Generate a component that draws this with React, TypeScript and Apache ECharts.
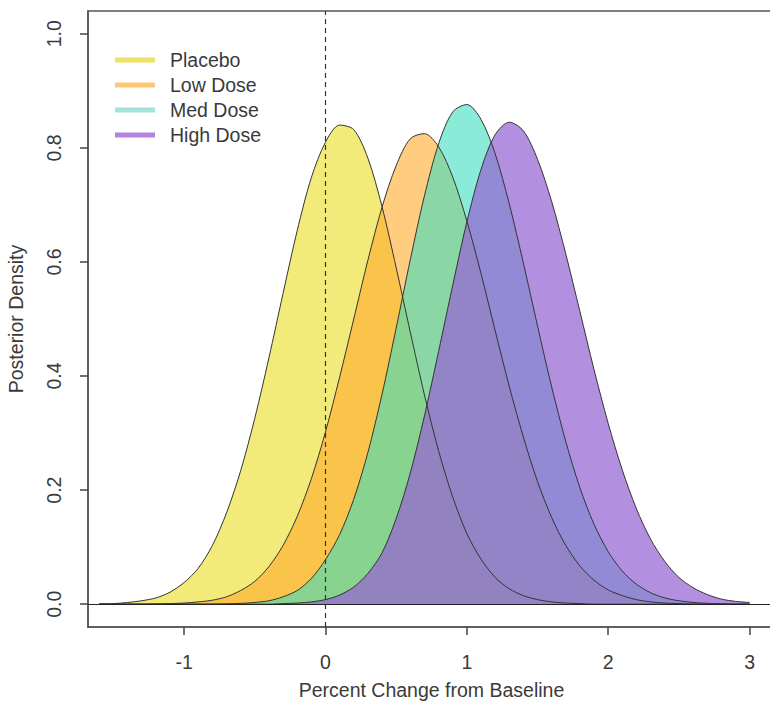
import React, { useEffect, useRef } from "react";
import * as echarts from "echarts";

// x grid of the density estimates (percent change from baseline)
const X_VALUES = [
  -1.6, -1.5, -1.4, -1.3, -1.2, -1.1, -1.0, -0.9, -0.8, -0.7, -0.6, -0.5, -0.4, -0.3, -0.2, -0.1,
  0.0, 0.1, 0.2, 0.3, 0.4, 0.5, 0.6, 0.7, 0.8, 0.9, 1.0, 1.1, 1.2, 1.3, 1.4, 1.5, 1.6, 1.7, 1.8,
  1.9, 2.0, 2.1, 2.2, 2.3, 2.4, 2.5, 2.6, 2.7, 2.8, 2.9, 3.0,
];

const PLACEBO = [
  0.0005, 0.001, 0.003, 0.006, 0.011, 0.021, 0.038, 0.063, 0.103, 0.16, 0.234, 0.326, 0.432, 0.545, 0.655, 0.748,
  0.81, 0.84, 0.832, 0.782, 0.697, 0.59, 0.477, 0.367, 0.269, 0.188, 0.124, 0.079, 0.047, 0.027, 0.015, 0.008,
  0.004, 0.002, 0.001, 0, 0, 0, 0, 0, 0, 0, 0, 0, 0, 0, 0,
];

const LOW_DOSE = [
  0, 0, 0, 0, 0.0004, 0.001, 0.002, 0.004, 0.007, 0.013, 0.024, 0.04, 0.066, 0.103, 0.154, 0.22,
  0.302, 0.398, 0.5, 0.603, 0.696, 0.769, 0.816, 0.825, 0.802, 0.749, 0.672, 0.58, 0.48, 0.382, 0.293, 0.215,
  0.152, 0.103, 0.067, 0.042, 0.025, 0.015, 0.008, 0.004, 0.002, 0.001, 0, 0, 0, 0, 0,
];

const MED_DOSE = [
  0, 0, 0, 0, 0, 0, 0, 0.0001, 0.0002, 0.0006, 0.0014, 0.003, 0.006, 0.013, 0.024, 0.045,
  0.078, 0.122, 0.184, 0.266, 0.368, 0.484, 0.604, 0.716, 0.807, 0.863, 0.876, 0.85, 0.79, 0.702, 0.598, 0.488,
  0.381, 0.285, 0.204, 0.14, 0.092, 0.058, 0.035, 0.02, 0.011, 0.006, 0.003, 0.0015, 0.0007, 0, 0,
];

const HIGH_DOSE = [
  0, 0, 0, 0, 0, 0, 0, 0, 0, 0, 0, 0, 0, 0.001, 0.002, 0.004,
  0.008, 0.016, 0.03, 0.054, 0.09, 0.15, 0.23, 0.33, 0.443, 0.559, 0.67, 0.762, 0.823, 0.845, 0.83, 0.78,
  0.706, 0.614, 0.513, 0.411, 0.317, 0.235, 0.167, 0.114, 0.075, 0.047, 0.029, 0.017, 0.009, 0.005, 0.003,
];

const SERIES_NAMES = ["Placebo", "Low Dose", "Med Dose", "High Dose"];
const X_TICKS = [-1, 0, 1, 2, 3];
const Y_TICKS = [0, 0.2, 0.4, 0.6, 0.8, 1.0];

const FILLS = [
  "rgba(233,222,33,0.6)",
  "rgba(255,170,43,0.6)",
  "rgba(60,222,190,0.6)",
  "rgba(150,100,210,0.72)",
];
const LEGEND_COLORS = ["#EEE262", "#FDC673", "#A2E4DB", "#B383E0"];

const FONT = "'Liberation Sans', Arial, sans-serif";
const TEXT = "#3a3a3a";
const FS = 19.5;

export default function App() {
  const ref = useRef<HTMLDivElement>(null);

  useEffect(() => {
    if (!ref.current) return;
    const chart = echarts.init(ref.current, undefined, { renderer: "svg" });
    const dataSets = [PLACEBO, LOW_DOSE, MED_DOSE, HIGH_DOSE];

    const series: any[] = dataSets.map((arr, k) => ({
      name: SERIES_NAMES[k],
      type: "line",
      data: X_VALUES.map((x, i) => [x, arr[i]]),
      showSymbol: false,
      smooth: 0.3,
      itemStyle: { color: LEGEND_COLORS[k] },
      lineStyle: { color: "#333", width: 1 },
      areaStyle: { color: FILLS[k], opacity: 1 },
      silent: true,
    }));

    series.push({
      name: "refs",
      type: "line",
      data: [[0, 0]],
      showSymbol: false,
      lineStyle: { width: 0 },
      silent: true,
      z: 10,
      markLine: {
        silent: true,
        symbol: "none",
        label: { show: false },
        animation: false,
        data: [
          { yAxis: 0, lineStyle: { type: "solid", color: "#222", width: 1.2 } },
          { xAxis: 0, lineStyle: { type: [5, 4], color: "#333", width: 1.2 } },
        ],
      },
    });

    const axisLine = { show: true, onZero: false, lineStyle: { color: "#555", width: 1.5 } };
    const tick = (vals: number[]) => ({
      show: true,
      inside: false,
      length: 8,
      customValues: vals,
      lineStyle: { color: "#444", width: 1.5 },
    });

    chart.setOption({
      animation: false,
      grid: {
        left: 88,
        top: 11,
        right: -5,
        bottom: 76,
        show: true,
        borderColor: "#555",
        borderWidth: 1.5,
        backgroundColor: "transparent",
        containLabel: false,
        outerBoundsMode: "none",
      },
      legend: {
        orient: "vertical",
        left: 115,
        top: 50,
        padding: 0,
        icon: "rect",
        itemWidth: 40,
        itemHeight: 5,
        itemGap: 5,
        selectedMode: false,
        data: SERIES_NAMES.map((n, k) => ({
          name: n,
          itemStyle: { color: LEGEND_COLORS[k], borderWidth: 0 },
        })),
        textStyle: {
          fontFamily: FONT,
          fontSize: FS,
          color: TEXT,
          padding: [0, 0, 0, 10],
        },
      },
      xAxis: {
        type: "value",
        min: -1.68,
        max: 3.18,
        name: "Percent Change from Baseline",
        nameLocation: "middle",
        nameGap: 53,
        nameTextStyle: { fontFamily: FONT, fontSize: FS, color: TEXT },
        axisLine,
        splitLine: { show: false },
        axisTick: tick(X_TICKS),
        axisLabel: {
          customValues: X_TICKS,
          margin: 25,
          fontFamily: FONT,
          fontSize: FS,
          color: TEXT,
        },
      },
      yAxis: {
        type: "value",
        min: -0.04,
        max: 1.04,
        name: "Posterior Density",
        nameLocation: "middle",
        nameGap: 62,
        nameTextStyle: { fontFamily: FONT, fontSize: FS, color: TEXT },
        axisLine,
        splitLine: { show: false },
        axisTick: tick(Y_TICKS),
        axisLabel: {
          customValues: Y_TICKS,
          rotate: 90,
          margin: 24,
          fontFamily: FONT,
          fontSize: FS,
          color: TEXT,
          formatter: (v: number) => v.toFixed(1),
        },
      },
      series,
    });

    return () => chart.dispose();
  }, []);

  return (
    <div
      ref={ref}
      style={{ position: "absolute", left: 0, top: 0, width: 770, height: 703, background: "#fff" }}
    />
  );
}
